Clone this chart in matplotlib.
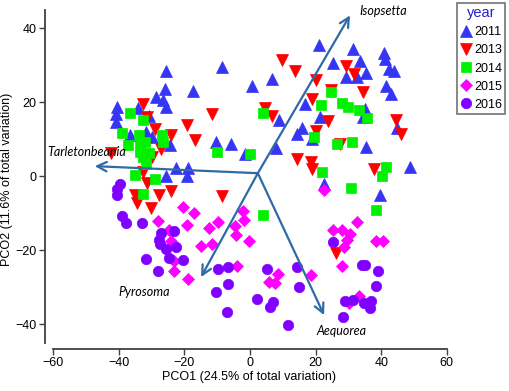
import numpy as np
import matplotlib
matplotlib.use("Agg")
from matplotlib import pyplot as plt

plt.rcParams['font.family'] = ['Liberation Sans', 'DejaVu Sans']

# PCO scores per year (x = PCO1, y = PCO2)
x_2011 = [-40.5, -40.8, -40.9, -34.2, -30.9, -28.7, -26.6, -25.5, -25.5, -26.0, -17.3, -8.6, 0.5,
          -36.6, -31.6, -24.3, -10.3, -5.9, -1.5, -22.5, -18.9, -19.3, -25.5, -29.8,
          21.1, 31.3, 40.8, 41.2, 25.2, 33.5, 42.3, 43.8, 29.4, 32.5, 35.5, 6.6, 41.6, 43.1,
          16.9, 35.1, 34.4, 21.4, 8.9, 15.8, 14.2, 18.8, 35.4, 7.8, 44.9, 48.7, 22.5, 39.5]
y_2011 = [18.8, 16.7, 14.7, 18.5, 16.2, 21.5, 20.7, 18.7, 28.5, 23.7, 23.1, 29.5, 24.3,
          11.1, 12.0, 8.4, 9.3, 8.7, 6.1, 2.1, 2.2, 0.1, 0.1, 10.5,
          35.6, 34.4, 33.4, 31.6, 30.5, 31.1, 28.9, 28.4, 26.9, 26.8, 27.8, 26.3, 24.3, 22.2,
          19.5, 18.2, 16.1, 15.9, 15.3, 12.9, 11.3, 10.1, 7.8, 7.6, 12.9, 2.4, -2.0, -5.1]

x_2013 = [-32.7, -31.3, -11.6, -19.3, -29.0, -24.2, -16.8, -27.1, -29.9, -42.3, -32.7, -31.4,
          -35.0, -27.7, -24.1, -34.5, -30.1, -8.6,
          9.7, 13.7, 29.2, 31.7, 20.1, 24.6, 34.5, 18.8, 4.6, 6.6, 23.8, 20.0, 44.6, 46.1,
          27.4, 14.2, 18.6, 18.8, 37.8, 26.2]
y_2013 = [19.5, 16.1, 16.9, 13.8, 12.8, 11.1, 9.7, 7.3, 5.2, 6.2, 1.2, -1.8,
          -5.1, -5.1, -4.0, -7.4, -8.5, -5.3,
          31.4, 28.5, 29.9, 27.6, 25.9, 23.2, 22.7, 20.8, 18.3, 16.2, 15.0, 12.2, 15.1, 11.5,
          8.8, 4.6, 3.8, 1.9, 1.8, -20.7]

x_2014 = [-36.7, -32.5, -38.9, -33.7, -26.8, -26.6, -37.1, -33.6, -31.9, -33.4, -30.8, -32.6,
          -31.8, -10.0, 0.0, -35.0, -29.0, -32.6,
          24.7, 21.5, 28.0, 29.9, 33.2, 35.8, 4.1, 19.5, 26.5, 31.2, 22.0, 41.4, 40.1, 30.9,
          3.9, 38.3]
y_2014 = [17.1, 15.1, 11.8, 11.2, 11.1, 9.3, 8.5, 9.1, 9.1, 6.6, 6.3, 5.2,
          3.4, 6.4, 5.9, 0.4, -0.9, -4.9,
          22.8, 19.2, 19.8, 18.8, 17.8, 15.6, 17.1, 10.6, 8.6, 9.1, 1.0, 2.4, 0.1, -3.3,
          -10.4, -9.2]

x_2015 = [-20.5, -17.0, -27.9, -19.1, -24.8, -24.1, -12.4, -9.8, -2.0, -1.7, -4.6, -4.3, -0.2,
          -15.0, -11.6, -23.0, -23.0, -18.8, -4.0,
          22.5, 32.5, 25.3, 27.9, 30.4, 29.6, 28.7, 38.3, 40.5, 27.9, 18.5, 8.4, 5.9, 7.6,
          33.2, 30.2]
y_2015 = [-8.3, -10.1, -12.1, -13.2, -14.6, -17.5, -13.9, -12.5, -9.4, -11.9, -13.5, -15.9, -17.6,
          -18.8, -18.4, -22.9, -25.7, -27.9, -24.3,
          -3.8, -12.4, -14.6, -14.6, -15.7, -17.3, -19.1, -17.5, -17.5, -24.2, -26.8, -26.6, -28.6, -29.0,
          -32.4, -34.4]

x_2016 = [-39.5, -40.5, -40.5, -39.0, -37.8, -32.8, -27.2, -23.1, -27.7, -27.4, -25.6, -22.6,
          -31.6, -24.6, -20.5, -28.1, -9.8, -6.6, -6.6, -10.4, -6.9, 2.0,
          25.2, 5.3, 14.2, 14.9, 34.0, 35.0, 39.0, 38.3, 6.9, 6.1, 11.6, 28.9, 31.4, 34.8,
          36.8, 36.5, 28.4]
y_2016 = [-2.2, -3.6, -5.2, -10.8, -12.8, -12.8, -15.3, -14.8, -17.3, -18.4, -19.8, -19.1,
          -22.4, -22.2, -22.7, -25.7, -25.2, -24.7, -29.3, -31.4, -36.7, -33.2,
          -17.8, -25.2, -24.5, -30.1, -23.9, -23.9, -25.6, -29.7, -34.0, -35.3, -40.3, -33.7, -33.5, -34.4,
          -33.7, -35.8, -38.0]

years = ['2011', '2013', '2014', '2015', '2016']
xs = [x_2011, x_2013, x_2014, x_2015, x_2016]
ys = [y_2011, y_2013, y_2014, y_2015, y_2016]
markers = ['^', 'v', 's', 'D', 'o']
sizes = [8.5, 8.5, 7, 6.5, 7.5]
colors = ['#3535f5', '#ff0000', '#00f000', '#ff00ff', '#8000ff']

# vector overlay (species correlations)
species = ['Isopsetta', 'Tarletonbeania', 'Pyrosoma', 'Aequorea']
vec_origin = (2.4, 0.8)
vec_x = [30.5, -47.3, -14.9, 22.6]
vec_y = [43.5, 2.7, -27.3, -37.6]
lab_x = [33.5, -61.9, -40.2, 20.3]
lab_y = [44.6, 6.5, -31.3, -41.9]

fig = plt.figure(figsize=(5.1, 3.91), dpi=100)
ax = fig.add_axes([0.088, 0.107, 0.801, 0.868])

for x, y, yr, m, s, c in zip(xs, ys, years, markers, sizes, colors):
    ax.plot(x, y, linestyle='none', marker=m, ms=s, color=c, mec=c, mew=0.5, label=yr)

for vx, vy, lx, ly, name in zip(vec_x, vec_y, lab_x, lab_y, species):
    ax.annotate('', xy=(vx, vy), xytext=vec_origin,
                arrowprops=dict(arrowstyle='->', color='#2f6aa6', lw=1.6, mutation_scale=17,
                                shrinkA=0, shrinkB=0))
    ax.text(lx, ly, name, fontsize=9, style='italic', family=['Lato', 'DejaVu Sans'],
            ha='left', va='center')

ax.set_xlim(-62.5, 62)
ax.set_ylim(-46.8, 45)
ax.set_xticks([-60, -40, -20, 0, 20, 40, 60])
ax.set_yticks([-40, -20, 0, 20, 40])
ax.spines['top'].set_visible(False)
ax.spines['right'].set_visible(False)
ax.spines['left'].set_bounds(-45, 45)
ax.spines['bottom'].set_bounds(-60, 60)
for sp in ['left', 'bottom']:
    ax.spines[sp].set_color('#404040')
    ax.spines[sp].set_linewidth(1.3)
ax.tick_params(direction='out', length=4, width=1, color='#404040', labelsize=9, pad=2)
ax.set_xlabel('PCO1 (24.5% of total variation)', fontsize=9, labelpad=1)
ax.set_ylabel('PCO2 (11.6% of total variation)', fontsize=9, labelpad=2)

leg = fig.legend(loc='upper left', bbox_to_anchor=(457 / 510, 1 - 3 / 391), title='year',
                 fontsize=9, title_fontsize=10.5, frameon=True, fancybox=False,
                 handletextpad=0.2, handlelength=0.9, borderpad=0.25, labelspacing=0.45,
                 borderaxespad=0, handleheight=0.9)
leg.get_title().set_color('#2020d0')
leg.get_frame().set_edgecolor('#505050')
leg.get_frame().set_linewidth(1.2)

fig.savefig('out.png', dpi=100)
